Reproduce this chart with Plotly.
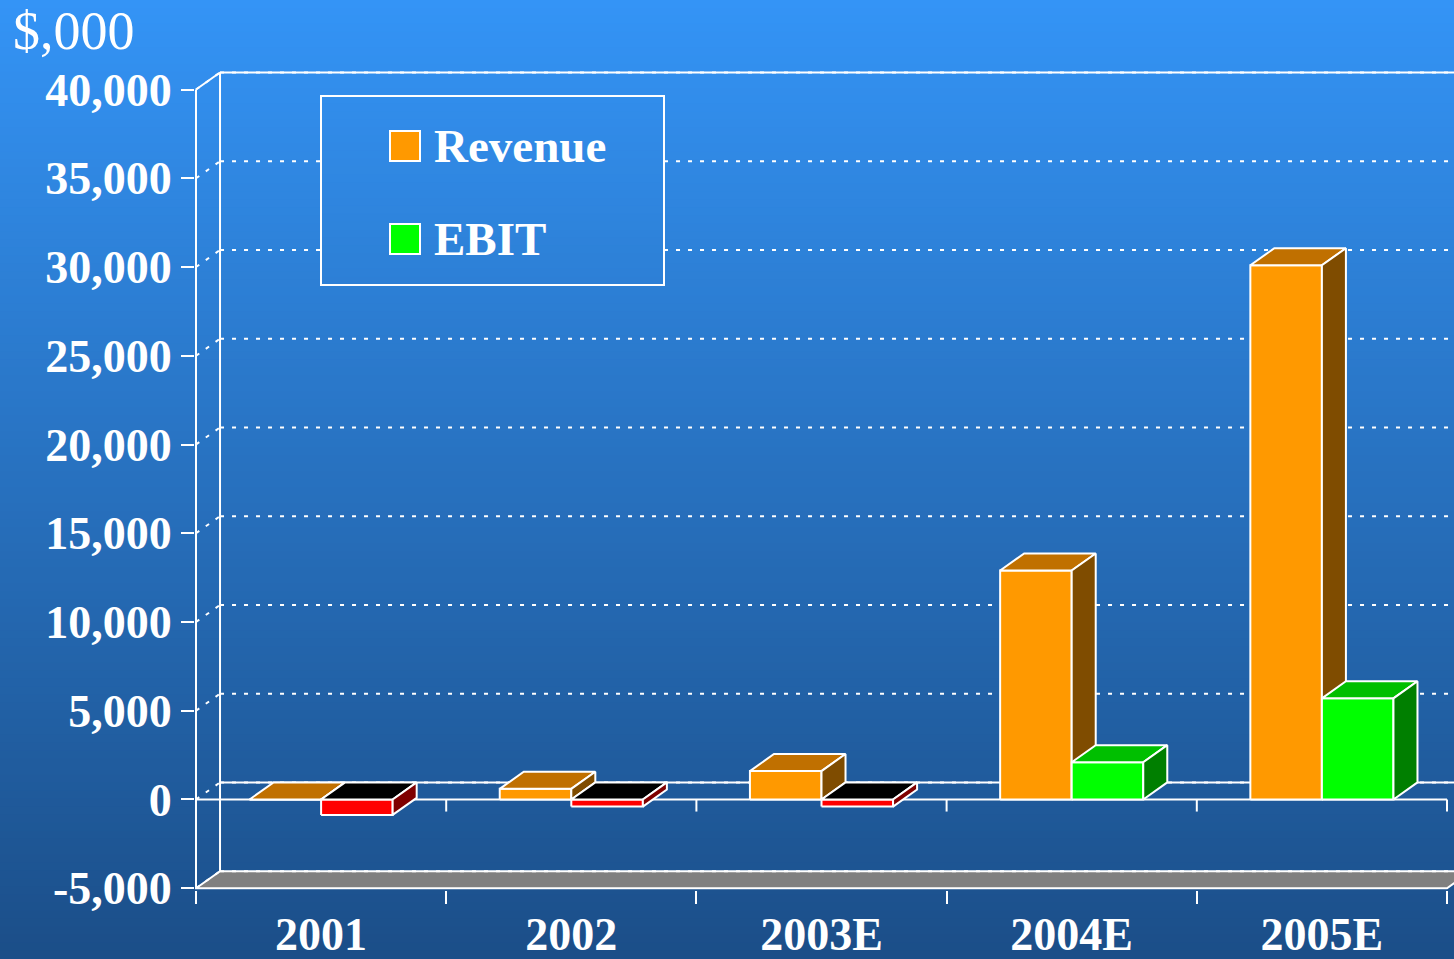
import plotly.graph_objects as go

# ---------------- data ----------------
categories = ["2001", "2002", "2003E", "2004E", "2005E"]
revenue = [0, 600, 1600, 12900, 30100]
ebit = [-870, -400, -400, 2100, 5700]
series_names = ["Revenue", "EBIT"]
y_tick_values = [-5000, 0, 5000, 10000, 15000, 20000, 25000, 30000, 35000, 40000]
y_tick_labels = ["-5,000", "0", "5,000", "10,000", "15,000", "20,000",
                 "25,000", "30,000", "35,000", "40,000"]
unit_label = "$,000"

# ---------------- layout constants ----------------
W, H = 1454, 959
ML, MR, MT, MB = 195, 0, 70, 69
PX_PER_CAT = 250.2
X0 = -0.5 - 1 / PX_PER_CAT
X1 = X0 + (W - ML - MR) / PX_PER_CAT
Y0, Y1 = -5100, 41100
DX, DY = 0.096, 960          # depth offset of the pseudo-3D box
BW = 0.286                   # bar width (category units)
XL, XR = -0.5, len(categories) - 0.5
YMIN, YMAX = y_tick_values[0], y_tick_values[-1]

FONT = "Liberation Serif"
WHITE = "white"

COL = {
    "rev": ("#FF9900", "#C07000", "#7F4C00"),
    "pos": ("#00FF00", "#00BF00", "#007F00"),
    "neg": ("#FF0000", "#000000", "#7F0000"),
}

PH = H - MT - MB
PW = W - ML - MR


def paper_x(px):
    return (px - ML) / PW


def paper_y(py):
    return (H - MB - py) / PH


top_c = (52, 148, 246)
bot_c = (27, 78, 136)


def grad(py):
    t = min(max(py / H, 0), 1)
    return "rgb(%d,%d,%d)" % tuple(round(top_c[i] + (bot_c[i] - top_c[i]) * t) for i in range(3))


fig = go.Figure()
shapes = []

# ---- background gradient (paper-level bands) ----
n_bands = 120
band = H / n_bands
for k in range(n_bands):
    shapes.append(dict(type="rect", xref="paper", yref="paper", layer="below",
                       x0=paper_x(-5), x1=paper_x(W + 5),
                       y0=paper_y(k * band - 0.5 if k else -5),
                       y1=paper_y((k + 1) * band + 0.5 if k < n_bands - 1 else H + 5),
                       fillcolor=grad((k + 0.5) * band), line=dict(width=0)))


def seg(x0, y0, x1, y1, dash=None, width=2):
    line = dict(color=WHITE, width=width)
    if dash:
        line["dash"] = dash
    shapes.append(dict(type="line", xref="x", yref="y", layer="below",
                       x0=x0, y0=y0, x1=x1, y1=y1, line=line))


DOT = "4px,8px"

# floor (grey) at the bottom value
shapes.append(dict(type="path", xref="x", yref="y", layer="below",
                   path="M %f %f L %f %f L %f %f L %f %f Z" % (
                       XL, YMIN, XL + DX, YMIN + DY, XR + DX, YMIN + DY, XR, YMIN),
                   fillcolor="#808080", line=dict(color=WHITE, width=2)))

# back-wall gridlines and left-wall diagonals
for v in y_tick_values:
    seg(XL + DX, v + DY, X1 + 1, v + DY, dash=DOT)
    seg(XL, v, XL + DX, v + DY, dash=DOT)
# solid top edge of back wall and left wall
seg(XL + DX, YMAX + DY, X1 + 1, YMAX + DY)
seg(XL, YMAX, XL + DX, YMAX + DY)
# wall verticals
seg(XL, YMIN, XL, YMAX)
seg(XL + DX, YMIN + DY, XL + DX, YMAX + DY)
# zero level: front and back lines
seg(XL, 0, XR, 0)
seg(XL + DX, DY, X1 + 1, DY)
# ticks under the zero line at category boundaries
for b in range(1, len(categories) + 1):
    xb = XL + b
    seg(xb, 0, xb, -680)


# ---------------- pseudo-3D bars ----------------
def faces(x0, v):
    x1 = x0 + BW
    lo, hi = min(v, 0), max(v, 0)
    front = [(x0, lo), (x1, lo), (x1, hi), (x0, hi)]
    top = [(x0, hi), (x1, hi), (x1 + DX, hi + DY), (x0 + DX, hi + DY)]
    side = [(x1, lo), (x1 + DX, lo + DY), (x1 + DX, hi + DY), (x1, hi)]
    return front, top, side


def add_faces(polys_by_face, colors):
    for face_idx in range(3):
        xs, ys = [], []
        for polys in polys_by_face:
            p = polys[face_idx]
            xs += [q[0] for q in p] + [p[0][0], None]
            ys += [q[1] for q in p] + [p[0][1], None]
        if not xs:
            continue
        fig.add_trace(go.Scatter(x=xs, y=ys, mode="lines", fill="toself",
                                 fillcolor=colors[face_idx],
                                 line=dict(color=WHITE, width=2),
                                 hoverinfo="skip", showlegend=False))


rev_polys = [faces(i - BW, v) for i, v in enumerate(revenue)]
add_faces(rev_polys, COL["rev"])
pos_polys = [faces(i, v) for i, v in enumerate(ebit) if v >= 0]
neg_polys = [faces(i, v) for i, v in enumerate(ebit) if v < 0]
if neg_polys:
    add_faces(neg_polys, COL["neg"])
if pos_polys:
    add_faces(pos_polys, COL["pos"])

# ---------------- legend (drawn box, opaque with background gradient) ----------------
LB = (321, 96, 664, 285)
n_lb = 24
lb_h = (LB[3] - LB[1]) / n_lb
for k in range(n_lb):
    ya = LB[1] + k * lb_h
    shapes.append(dict(type="rect", xref="paper", yref="paper",
                       x0=paper_x(LB[0]), x1=paper_x(LB[2]),
                       y0=paper_y(ya + lb_h + 0.5), y1=paper_y(ya - 0.5),
                       fillcolor=grad(ya + lb_h / 2), line=dict(width=0)))
shapes.append(dict(type="rect", xref="paper", yref="paper",
                   x0=paper_x(LB[0]), x1=paper_x(LB[2]), y0=paper_y(LB[3]), y1=paper_y(LB[1]),
                   line=dict(color=WHITE, width=2), fillcolor="rgba(0,0,0,0)"))
annotations = []
legend_rows = [(series_names[0], COL["rev"][0], 146), (series_names[1], COL["pos"][0], 239)]
for name, color, cy in legend_rows:
    shapes.append(dict(type="rect", xref="paper", yref="paper",
                       x0=paper_x(390), x1=paper_x(420),
                       y0=paper_y(cy + 15), y1=paper_y(cy - 15),
                       fillcolor=color, line=dict(color=WHITE, width=2)))
    annotations.append(dict(xref="paper", yref="paper", x=paper_x(432), y=paper_y(cy),
                            xanchor="left", yanchor="middle", showarrow=False,
                            text="<b>%s</b>" % name,
                            font=dict(family=FONT, size=47, color=WHITE)))

annotations.append(dict(xref="paper", yref="paper", x=paper_x(11), y=paper_y(31),
                        xanchor="left", yanchor="middle", showarrow=False,
                        text=unit_label,
                        font=dict(family=FONT, size=54, color=WHITE)))

fig.update_layout(
    width=W, height=H, autosize=False,
    margin=dict(l=ML, r=MR, t=MT, b=MB, pad=0),
    paper_bgcolor="#2A72C2", plot_bgcolor="rgba(0,0,0,0)",
    showlegend=False,
    shapes=shapes, annotations=annotations,
    xaxis=dict(range=[X0, X1], showgrid=False, zeroline=False, showline=False,
               automargin=False, fixedrange=True,
               tickmode="array", tickvals=list(range(len(categories))),
               ticktext=categories, ticks="",
               tickfont=dict(family=FONT, size=46, color=WHITE, weight="bold"),
               ticklabelstandoff=13,
               minor=dict(tickmode="array",
                          tickvals=[b - 0.5 for b in range(len(categories) + 1)],
                          ticks="outside", ticklen=13, tickcolor=WHITE, tickwidth=2,
                          showgrid=False)),
    yaxis=dict(range=[Y0, Y1], showgrid=False, zeroline=False, showline=False,
               automargin=False, fixedrange=True,
               tickmode="array", tickvals=y_tick_values, ticktext=y_tick_labels,
               ticks="outside", ticklen=13, tickcolor=WHITE, tickwidth=2,
               tickfont=dict(family=FONT, size=46, color=WHITE, weight="bold")),
)

fig.write_html("out.html", config={"displayModeBar": False},
               post_script="document.body.style.margin='0';document.body.style.overflow='hidden';")
